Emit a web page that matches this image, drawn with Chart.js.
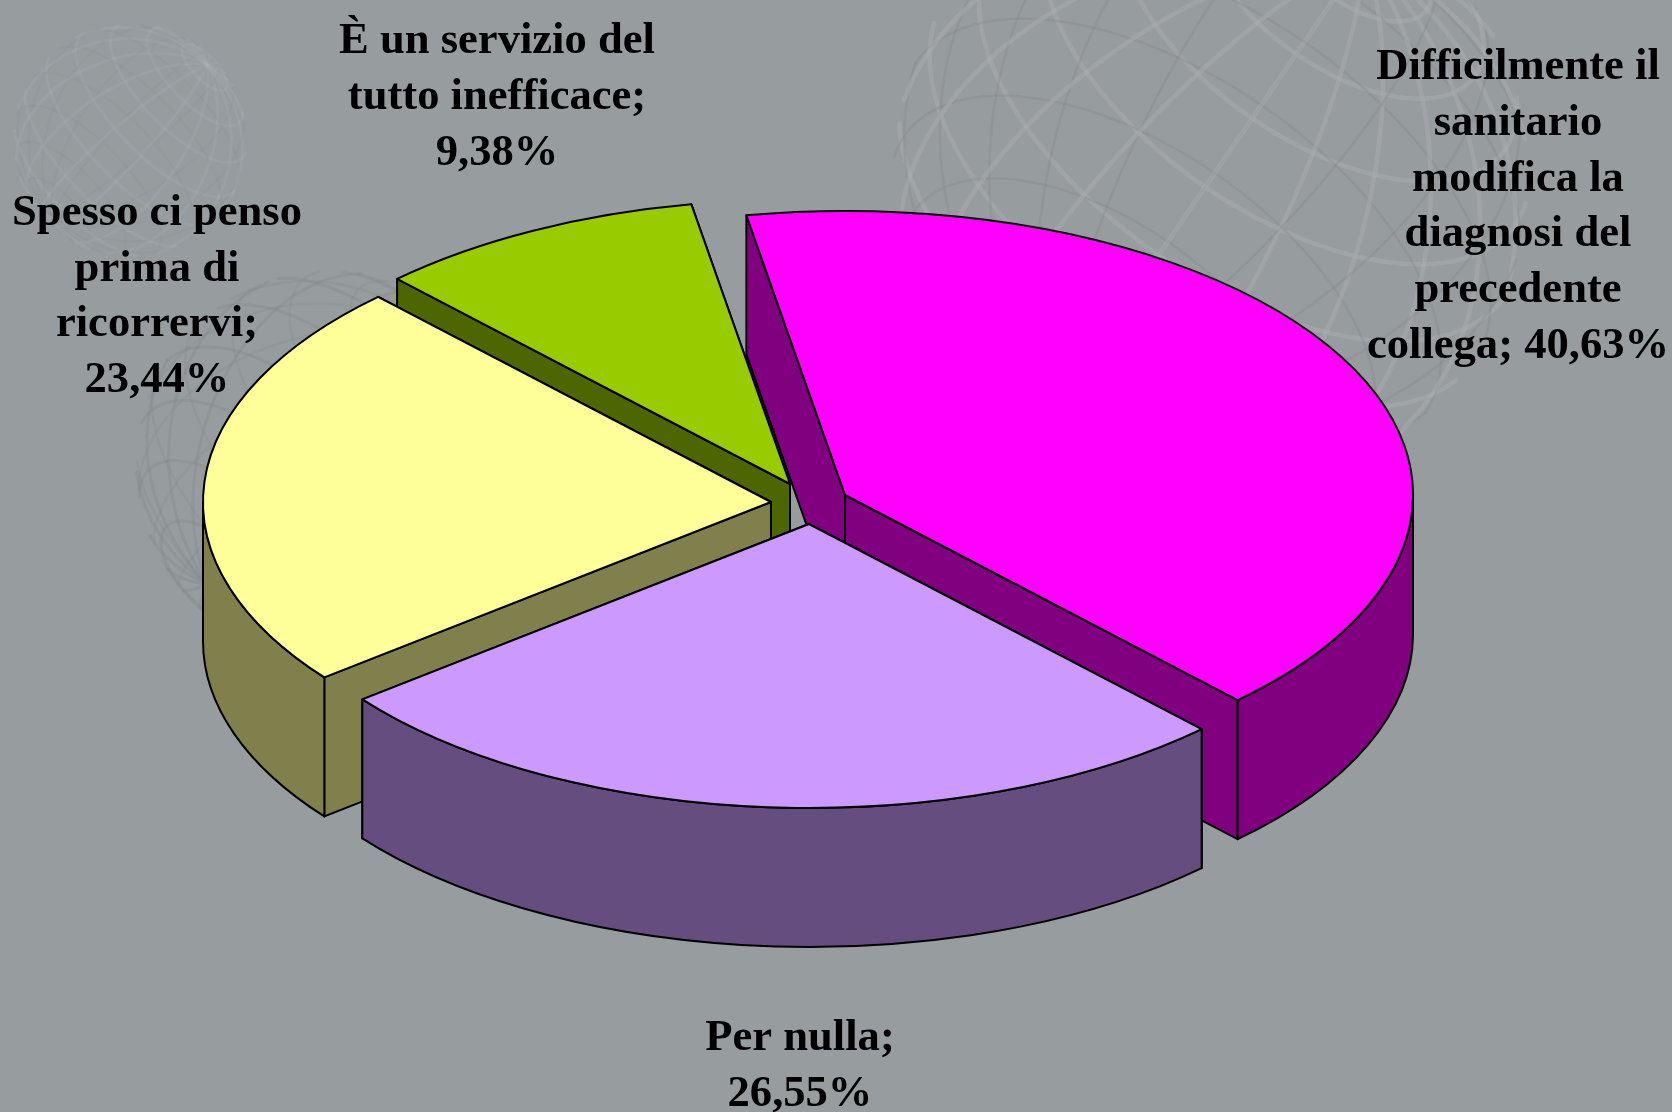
<!DOCTYPE html>
<html lang="it">
<head>
<meta charset="utf-8">
<title>Grafico a torta</title>
<script src="https://cdn.jsdelivr.net/npm/chart.js@4/dist/chart.umd.js"></script>
<style>
html,body{margin:0;padding:0;background:#979c9f;overflow:hidden}
#wrap{position:relative;width:1672px;height:1112px}
</style>
</head>
<body>
<div id="wrap"><canvas id="c" width="1672" height="1112"></canvas></div>
<script>
const categories = ["Difficilmente il sanitario modifica la diagnosi del precedente collega", "Per nulla", "Spesso ci penso prima di ricorrervi", "È un servizio del tutto inefficace"];
const values = [40.63, 26.55, 23.44, 9.38];
const topColors = ["#FF00FF", "#CC99FF", "#FFFF99", "#99CC00"];
const wallColors = ["#800080", "#664D80", "#80804D", "#4D6600"];
const labelLines = [
  ["Difficilmente il", "sanitario", "modifica la", "diagnosi del", "precedente", "collega; 40,63%"],
  ["Per nulla;", "26,55%"],
  ["Spesso ci penso", "prima di", "ricorrervi;", "23,44%"],
  ["È un servizio del", "tutto inefficace;", "9,38%"]
];

// layout / styling (not data)
const TILT = 0.5, DEPTH = 139, RADIUS = 568, ROTATION = -10;
const sliceAnchors = [[845,495],[809,524],[771,502],[790,484]];
const labelPos = [[1518,79,55.8],[800,1050,56],[157,225,55.6],[497,53,55.8]];
const drawOrder = [0,3,2,1];
const BG = "#979c9f";
const FONT = 'bold 44.6px "Liberation Serif", "Times New Roman", serif';
const OUTLINE = "#000";

function globe(ctx, cx, cy, r, rx, rz, nearStyle, farStyle, latStep, lonStep) {
  const cxr=Math.cos(rx), sxr=Math.sin(rx), czr=Math.cos(rz), szr=Math.sin(rz);
  const proj=(lat,lon)=>{
    let x=Math.cos(lat)*Math.cos(lon), y=Math.sin(lat), z=Math.cos(lat)*Math.sin(lon);
    let y2=y*cxr-z*sxr, z2=y*sxr+z*cxr;
    let x3=x*czr-y2*szr, y3=x*szr+y2*czr;
    return [cx+r*x3, cy+r*y3, z2];
  };
  const seg=(pts,style)=>{
    for(const front of [false,true]){
      const s=front?style.near:style.far;
      ctx.strokeStyle=s.color; ctx.lineWidth=s.width; ctx.lineCap="round";
      ctx.beginPath(); let pen=false;
      for(const p of pts){
        const vis=front?p[2]>=0.12:p[2]<-0.12;
        if(vis){ if(pen) ctx.lineTo(p[0],p[1]); else {ctx.moveTo(p[0],p[1]);pen=true;} }
        else pen=false;
      }
      ctx.stroke();
    }
  };
  const st={near:nearStyle,far:farStyle};
  for(let lat=-75;lat<=75;lat+=latStep){
    const pts=[]; for(let lon=0;lon<=360;lon+=3) pts.push(proj(lat*Math.PI/180,lon*Math.PI/180));
    seg(pts,st);
  }
  for(let lon=0;lon<180;lon+=lonStep){
    const pts=[]; for(let t=0;t<=360;t+=3){
      const a=t*Math.PI/180;
      const la=Math.asin(Math.sin(a));
      const lo=(lon*Math.PI/180)+(Math.cos(a)<0?Math.PI:0);
      pts.push(proj(la,lo));
    }
    seg(pts,st);
  }
}

const backdrop = {
  id:"backdrop",
  beforeDraw(chart){
    const ctx=chart.ctx;
    ctx.save();
    ctx.fillStyle=BG; ctx.fillRect(0,0,chart.width,chart.height);
    globe(ctx,1210,180,320,-0.55,0.6,
      {color:"rgba(170,175,178,0.45)",width:4.5},{color:"rgba(128,133,136,0.28)",width:2.5},15,18);
    globe(ctx,130,140,117,-0.4,0.8,
      {color:"rgba(172,177,180,0.22)",width:3},{color:"rgba(128,133,136,0.10)",width:2},18,20);
    globe(ctx,330,465,195,0.5,0.8,
      {color:"rgba(128,133,136,0.30)",width:3},{color:"rgba(128,133,136,0.20)",width:2.5},18,20);
    ctx.restore();
  }
};

const pie3d = {
  id:"pie3d",
  beforeDatasetDraw(chart,args){
    const ctx=chart.ctx, arcs=args.meta.data;
    const dz=DEPTH/TILT;
    for(const i of drawOrder){
      const a=arcs[i];
      const R=a.outerRadius, s=a.startAngle, e=a.endAngle;
      const [ax,ay]=sliceAnchors[i];
      const build=fn=>{
        ctx.save(); ctx.translate(ax,ay); ctx.scale(1,TILT); ctx.translate(-a.x,-a.y);
        ctx.beginPath(); fn(); ctx.restore();
      };
      const finish=col=>{
        ctx.fillStyle=col; ctx.fill();
        ctx.strokeStyle=OUTLINE; ctx.lineWidth=2; ctx.lineJoin="round"; ctx.stroke();
      };
      const radial=th=>{
        const px=a.x+R*Math.cos(th), py=a.y+R*Math.sin(th);
        build(()=>{ctx.moveTo(a.x,a.y);ctx.lineTo(px,py);ctx.lineTo(px,py+dz);ctx.lineTo(a.x,a.y+dz);ctx.closePath();});
        finish(wallColors[i]);
      };
      radial(e); radial(s);
      const r0=Math.max(s,0), r1=Math.min(e,Math.PI);
      if(r1>r0){
        build(()=>{ctx.arc(a.x,a.y,R,r0,r1);ctx.arc(a.x,a.y+dz,R,r1,r0,true);ctx.closePath();});
        finish(wallColors[i]);
      }
      ctx.save(); ctx.translate(ax,ay); ctx.scale(1,TILT); ctx.translate(-a.x,-a.y);
      a.draw(ctx);
      ctx.restore();
      build(()=>{ctx.moveTo(a.x,a.y);ctx.arc(a.x,a.y,R,s,e);ctx.closePath();});
      ctx.strokeStyle=OUTLINE; ctx.lineWidth=2; ctx.lineJoin="round"; ctx.stroke();
    }
    return false;
  },
  afterDraw(chart){
    const ctx=chart.ctx;
    ctx.save();
    ctx.font=FONT; ctx.fillStyle="#000"; ctx.textAlign="center"; ctx.textBaseline="alphabetic";
    labelLines.forEach((lines,i)=>{
      const [x,y,lh]=labelPos[i];
      lines.forEach((t,j)=>ctx.fillText(t,x,y+j*lh));
    });
    ctx.restore();
  }
};

new Chart(document.getElementById("c"),{
  type:"pie",
  data:{labels:categories,datasets:[{data:values,backgroundColor:topColors,borderWidth:0}]},
  options:{
    responsive:false,animation:false,
    rotation:ROTATION,radius:RADIUS,
    layout:{padding:0},
    plugins:{legend:{display:false},tooltip:{enabled:false},title:{display:false}}
  },
  plugins:[backdrop,pie3d]
});
</script>
</body>
</html>
